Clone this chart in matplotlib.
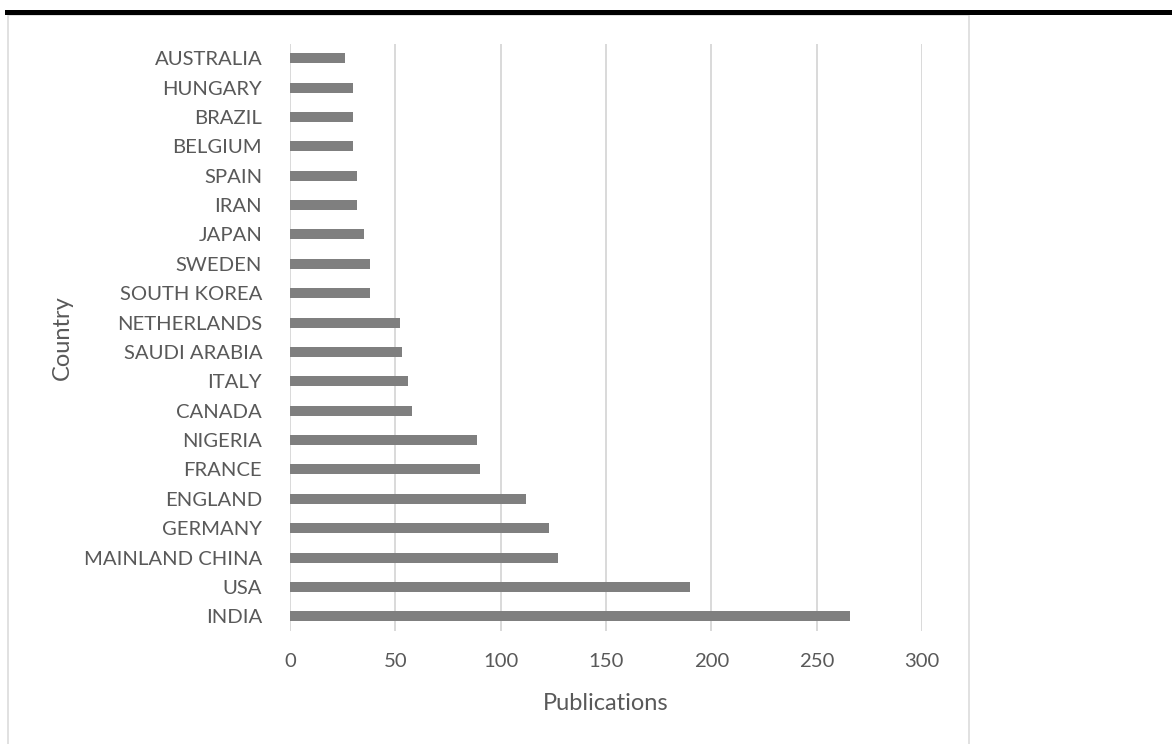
import matplotlib.pyplot as plt
from matplotlib.patches import Rectangle

# publications per country, listed bottom to top
countries = ["INDIA", "USA", "MAINLAND CHINA", "GERMANY", "ENGLAND", "FRANCE",
             "NIGERIA", "CANADA", "ITALY", "SAUDI ARABIA", "NETHERLANDS",
             "SOUTH KOREA", "SWEDEN", "JAPAN", "IRAN", "SPAIN", "BELGIUM",
             "BRAZIL", "HUNGARY", "AUSTRALIA"]
publications = [266, 190, 127, 123, 112, 90, 89, 58, 56, 53, 52,
                38, 38, 35, 32, 32, 30, 30, 30, 26]
x_ticks = [0, 50, 100, 150, 200, 250, 300]

W, H = 1172, 744
text_color = "#595959"
grid_color = "#d9d9d9"

plt.rcParams["font.family"] = ["Lato", "DejaVu Sans"]

fig = plt.figure(figsize=(W / 100, H / 100), dpi=100)

# outer chart frame and the heavy rule above it
fig.add_artist(Rectangle((8 / W, -0.05), (969 - 8) / W, 1.05 - 14.5 / H,
                         transform=fig.transFigure, fill=False,
                         edgecolor=grid_color, linewidth=1.1))
fig.add_artist(Rectangle((5 / W, 1 - 15 / H), 1, 5 / H,
                         transform=fig.transFigure, facecolor="black",
                         edgecolor="none"))

ax = fig.add_axes([290 / W, 1 - 631 / H, (922 - 290) / W, (631 - 43.5) / H])

pos = range(len(countries))
ax.barh(pos, publications, height=0.34, color="#7f7f7f", zorder=3)

ax.set_xlim(0, 300)
ax.set_ylim(-0.5, len(countries) - 0.5)
ax.set_xticks(x_ticks)
ax.set_yticks(list(pos))
ax.set_yticklabels(countries)

ax.grid(axis="x", color=grid_color, linewidth=1.4, zorder=0)
ax.grid(axis="y", visible=False)
for s in ax.spines.values():
    s.set_visible(False)

ax.tick_params(axis="both", length=0, labelsize=14.6, labelcolor=text_color)
ax.tick_params(axis="x", pad=16)
ax.tick_params(axis="y", pad=20)

ax.set_xlabel("Publications", fontsize=17, color=text_color)
ax.set_ylabel("Country", fontsize=17, color=text_color)
ax.xaxis.set_label_coords(0.5, -(703 - 631) / (631 - 43.5), transform=ax.transAxes)
ax.xaxis.label.set_va("center")
ax.yaxis.set_label_coords(-(290 - 62) / (922 - 290), 0.5)
ax.yaxis.label.set_va("center")

fig.savefig("out.png", dpi=100)
